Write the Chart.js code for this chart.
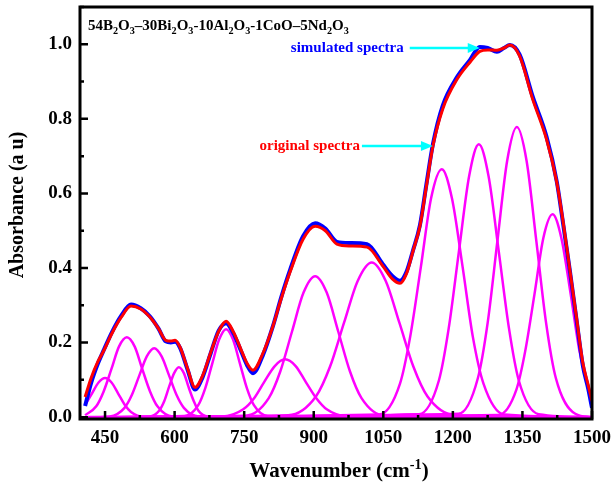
<!DOCTYPE html>
<html>
<head>
<meta charset="utf-8">
<script src="https://cdn.jsdelivr.net/npm/chart.js@4.4.1/dist/chart.umd.min.js"></script>
<style>
  html, body { margin: 0; padding: 0; background: #fff; }
  #wrap { width: 611px; height: 488px; position: relative; }
</style>
</head>
<body>
<div id="wrap"><canvas id="graphCanvas"></canvas></div>
<script>
// 測定スペクトル（赤）
const originalWn = [407, 420, 435, 448, 465, 485, 506, 527, 547, 565, 581, 592, 601, 612, 628, 644, 660, 678, 695, 711, 727, 743, 756, 769, 790, 812, 830, 849, 877, 903, 925, 950, 978, 1015, 1049, 1070, 1086, 1100, 1114, 1129, 1143, 1157, 1178, 1209, 1237, 1258, 1275, 1295, 1310, 1323, 1344, 1372, 1402, 1424, 1437, 1452, 1467, 1480, 1492, 1500];
const originalAbs = [0.054, 0.105, 0.150, 0.180, 0.225, 0.268, 0.298, 0.290, 0.268, 0.238, 0.206, 0.204, 0.206, 0.187, 0.130, 0.080, 0.110, 0.174, 0.230, 0.257, 0.228, 0.182, 0.145, 0.126, 0.170, 0.244, 0.318, 0.389, 0.477, 0.512, 0.500, 0.464, 0.459, 0.456, 0.405, 0.370, 0.359, 0.385, 0.445, 0.512, 0.620, 0.727, 0.826, 0.906, 0.952, 0.981, 0.985, 0.984, 0.990, 0.998, 0.968, 0.853, 0.745, 0.630, 0.530, 0.397, 0.263, 0.147, 0.085, 0.043];
// シミュレーション（青）
const simulatedAbs = [0.030, 0.092, 0.145, 0.182, 0.228, 0.272, 0.302, 0.292, 0.270, 0.238, 0.203, 0.200, 0.202, 0.185, 0.127, 0.074, 0.106, 0.172, 0.232, 0.252, 0.224, 0.178, 0.140, 0.118, 0.165, 0.244, 0.322, 0.395, 0.485, 0.520, 0.506, 0.470, 0.467, 0.464, 0.410, 0.378, 0.366, 0.390, 0.447, 0.515, 0.625, 0.732, 0.835, 0.912, 0.958, 0.993, 0.990, 0.980, 0.990, 0.998, 0.972, 0.860, 0.752, 0.632, 0.525, 0.395, 0.258, 0.140, 0.075, 0.025];

// 分解したバンド（マゼンタ）
const band450 = [[407, 0.032], [422, 0.064], [436, 0.093], [450, 0.105], [464, 0.093], [478, 0.064], [492, 0.034], [506, 0.014], [534, 0.001], [1500, 0]];
const band497 = [[407, 0.005], [431, 0.029], [447, 0.069], [464, 0.130], [480, 0.189], [497, 0.214], [514, 0.189], [530, 0.130], [547, 0.069], [563, 0.029], [596, 0.002], [1500, 0]];
const band556 = [[407, 0], [460, 0.002], [492, 0.025], [508, 0.060], [524, 0.112], [540, 0.163], [556, 0.185], [572, 0.163], [588, 0.112], [604, 0.060], [620, 0.025], [652, 0.002], [1500, 0]];
const band609 = [[407, 0], [546, 0.002], [567, 0.018], [578, 0.044], [588, 0.081], [599, 0.118], [609, 0.134], [620, 0.118], [630, 0.081], [641, 0.044], [651, 0.018], [672, 0.002], [1500, 0]];
const band711 = [[407, 0], [621, 0.003], [651, 0.032], [666, 0.077], [681, 0.143], [696, 0.208], [711, 0.236], [726, 0.208], [741, 0.143], [756, 0.077], [771, 0.032], [801, 0.003], [1500, 0]];
const band838 = [[407, 0], [703, 0.002], [748, 0.021], [771, 0.050], [793, 0.094], [816, 0.137], [838, 0.155], [861, 0.137], [883, 0.094], [906, 0.050], [928, 0.021], [973, 0.002], [1500, 0]];
const band903 = [[407, 0], [753, 0.004], [803, 0.051], [828, 0.123], [853, 0.229], [878, 0.334], [903, 0.378], [928, 0.334], [953, 0.229], [978, 0.123], [1003, 0.051], [1053, 0.004], [1500, 0]];
const band1025 = [[407, 0], [845, 0.005], [905, 0.056], [935, 0.135], [965, 0.252], [995, 0.366], [1025, 0.415], [1055, 0.366], [1085, 0.252], [1115, 0.135], [1145, 0.056], [1205, 0.005], [1500, 0]];
const band1176 = [[407, 0], [1041, 0.007], [1086, 0.090], [1108, 0.216], [1131, 0.403], [1153, 0.587], [1176, 0.665], [1198, 0.587], [1221, 0.403], [1243, 0.216], [1266, 0.090], [1311, 0.007], [1500, 0]];
const band1256 = [[407, 0], [1127, 0.008], [1170, 0.099], [1191, 0.238], [1213, 0.444], [1235, 0.646], [1256, 0.732], [1277, 0.646], [1299, 0.444], [1321, 0.238], [1342, 0.099], [1385, 0.008], [1500, 0]];
const band1338 = [[407, 0], [1212, 0.009], [1254, 0.105], [1275, 0.253], [1296, 0.472], [1317, 0.687], [1338, 0.778], [1359, 0.687], [1380, 0.472], [1401, 0.253], [1422, 0.105], [1464, 0.009], [1500, 0]];
const band1415 = [[407, 0], [1298, 0.006], [1337, 0.074], [1356, 0.177], [1376, 0.330], [1395, 0.480], [1415, 0.544], [1434, 0.480], [1454, 0.330], [1473, 0.177], [1493, 0.074], [1500, 0.050]];
const bands = [band450, band497, band556, band609, band711, band838, band903, band1025, band1176, band1256, band1338, band1415];

// 目盛り
const xTickValues = [450, 600, 750, 900, 1050, 1200, 1350, 1500];
const yTickValues = [0, 0.2, 0.4, 0.6, 0.8, 1.0];

const SERIF = '"Liberation Serif", "Times New Roman", serif';

const drawRich = (ctx, parts, x, y, size, align) => {
  const fontOf = (p) => "bold " + (p[1] ? size * 0.68 : size) + "px " + SERIF;
  let total = 0;
  parts.forEach((p) => { ctx.font = fontOf(p); total += ctx.measureText(p[0]).width; });
  let cx = align === "center" ? x - total / 2 : align === "right" ? x - total : x;
  ctx.textAlign = "left";
  ctx.textBaseline = "alphabetic";
  parts.forEach((p) => {
    ctx.font = fontOf(p);
    const dy = p[1] === 1 ? size * 0.28 : p[1] === -1 ? -size * 0.4 : 0;
    ctx.fillText(p[0], cx, y + dy);
    cx += ctx.measureText(p[0]).width;
  });
};

const drawArrow = (ctx, x0, y0, x1, y1) => {
  ctx.strokeStyle = "#00ffff";
  ctx.fillStyle = "#00ffff";
  ctx.lineWidth = 2.5;
  ctx.beginPath();
  ctx.moveTo(x0, y0);
  ctx.lineTo(x1 - 9, y1);
  ctx.stroke();
  ctx.beginPath();
  ctx.moveTo(x1, y1);
  ctx.lineTo(x1 - 12, y1 - 5);
  ctx.lineTo(x1 - 12, y1 + 5);
  ctx.closePath();
  ctx.fill();
};

const framePlugin = {
  id: "frame",
  afterDraw: (chart) => {
    const ctx = chart.ctx;
    const a = chart.chartArea;
    const xs = chart.scales.x;
    const ys = chart.scales.y;
    ctx.save();

    // 枠
    ctx.strokeStyle = "#000";
    ctx.lineWidth = 3;
    ctx.strokeRect(a.left, a.top, a.right - a.left, a.bottom - a.top);

    // 内向き目盛り
    ctx.lineWidth = 2.5;
    ctx.beginPath();
    xTickValues.forEach((v, i) => {
      const px = xs.getPixelForValue(v);
      ctx.moveTo(px, a.bottom);
      ctx.lineTo(px, a.bottom - 8);
      if (i > 0) {
        const mx = xs.getPixelForValue(v - 75);
        ctx.moveTo(mx, a.bottom);
        ctx.lineTo(mx, a.bottom - 4);
      }
    });
    yTickValues.forEach((v) => {
      const py = ys.getPixelForValue(v);
      ctx.moveTo(a.left, py);
      ctx.lineTo(a.left + 8, py);
      const my = ys.getPixelForValue(v + 0.1);
      ctx.moveTo(a.left, my);
      ctx.lineTo(a.left + 4, my);
    });
    ctx.stroke();

    // 組成
    ctx.fillStyle = "#000";
    drawRich(ctx, [["54B", 0], ["2", 1], ["O", 0], ["3", 1], ["\u201330Bi", 0], ["2", 1], ["O", 0], ["3", 1],
      ["-10Al", 0], ["2", 1], ["O", 0], ["3", 1], ["-1CoO\u20135Nd", 0], ["2", 1], ["O", 0], ["3", 1]],
      a.left + 8, a.top + 23, 15, "left");

    // 矢印と注記
    const sx = xs.getPixelForValue(1258), sy = ys.getPixelForValue(0.99);
    drawArrow(ctx, sx - 70, sy, sx, sy);
    ctx.fillStyle = "#0000ff";
    ctx.font = "bold 15px " + SERIF;
    ctx.textAlign = "right";
    ctx.textBaseline = "middle";
    ctx.fillText("simulated spectra", sx - 76, sy);

    const ox = xs.getPixelForValue(1157), oy = ys.getPixelForValue(0.727);
    drawArrow(ctx, ox - 71, oy, ox, oy);
    ctx.fillStyle = "#ff0000";
    ctx.font = "bold 15px " + SERIF;
    ctx.textAlign = "right";
    ctx.textBaseline = "middle";
    ctx.fillText("original spectra", ox - 73, oy);

    // 軸タイトル
    ctx.fillStyle = "#000";
    ctx.save();
    ctx.translate(18, (a.top + a.bottom) / 2 - 8);
    ctx.rotate(-Math.PI / 2);
    ctx.font = "bold 20px " + SERIF;
    ctx.textAlign = "center";
    ctx.textBaseline = "middle";
    ctx.fillText("Absorbance (a u)", 0, 0);
    ctx.restore();

    drawRich(ctx, [["Wavenumber (cm", 0], ["-1", -1], [")", 0]], (a.left + a.right) / 2 + 3, 477, 21, "center");

    ctx.restore();
  },
};

const graphDraw = () => {
  const datasets = [
    {
      label: "original spectra",
      data: originalWn.map((x, i) => ({ x: x, y: originalAbs[i] })),
      borderColor: "#ff0000",
      borderWidth: 3,
    },
    {
      label: "simulated spectra",
      data: originalWn.map((x, i) => ({ x: x, y: simulatedAbs[i] })),
      borderColor: "#0000ff",
      borderWidth: 4,
    },
  ];
  bands.forEach((b, i) => {
    datasets.push({
      label: "band " + (i + 1),
      data: b.map((p) => ({ x: p[0], y: p[1] })),
      borderColor: "#ff00ff",
      borderWidth: 2.5,
    });
  });
  datasets.forEach((d) => {
    d.showLine = true;
    d.pointRadius = 0;
    d.fill = false;
    d.cubicInterpolationMode = "monotone";
  });

  const tickFont = { family: SERIF, size: 19, weight: "bold" };
  const ctx = document.getElementById("graphCanvas").getContext("2d");
  new Chart(ctx, {
    type: "scatter",
    data: { datasets: datasets },
    options: {
      animation: false,
      responsive: true,
      maintainAspectRatio: false,
      layout: { padding: { left: 0, right: 19, top: 7, bottom: 0 } },
      plugins: { legend: { display: false }, tooltip: { enabled: false } },
      scales: {
        x: {
          type: "linear",
          min: 396,
          max: 1500,
          afterBuildTicks: (s) => { s.ticks = xTickValues.map((v) => ({ value: v })); },
          afterFit: (s) => { s.height = 69; s.paddingLeft = 0; s.paddingRight = 0; },
          grid: { display: false, drawTicks: false },
          border: { display: false },
          ticks: { color: "#000", font: tickFont, padding: 8, maxRotation: 0, autoSkip: false, callback: (v) => String(v) },
        },
        y: {
          min: -0.005,
          max: 1.1,
          afterBuildTicks: (s) => { s.ticks = yTickValues.map((v) => ({ value: v })); },
          afterFit: (s) => { s.width = 80; s.paddingTop = 0; s.paddingBottom = 0; },
          grid: { display: false, drawTicks: false },
          border: { display: false },
          ticks: { color: "#000", font: tickFont, padding: 8, callback: (v) => Number(v).toFixed(1) },
        },
      },
    },
    plugins: [framePlugin],
  });
};

graphDraw();
</script>
</body>
</html>
